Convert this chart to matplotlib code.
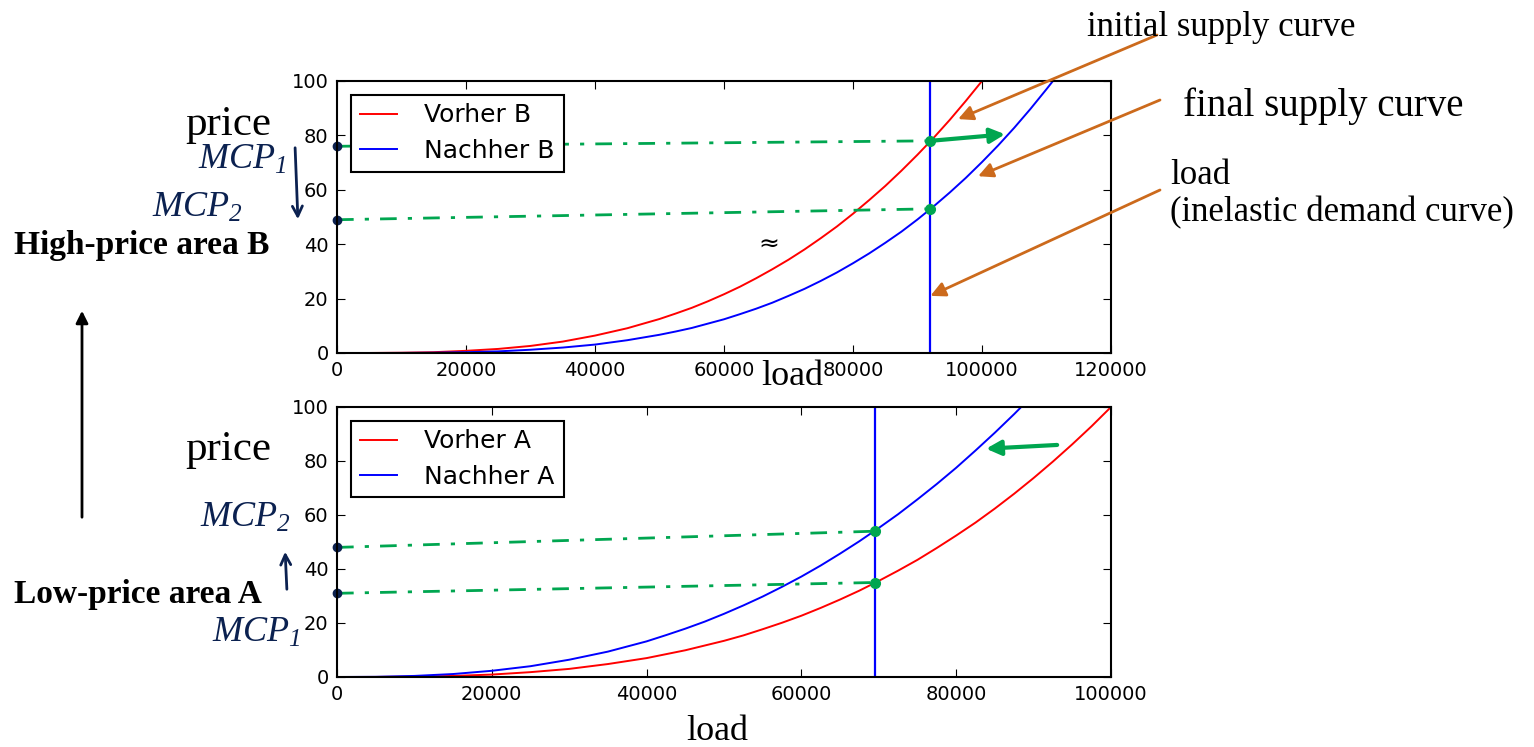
import matplotlib
matplotlib.use('Agg')
import matplotlib.pyplot as plt
from matplotlib.patches import FancyArrowPatch

# prices, one load list per curve
x_vorher_B = [0, 5000, 10000, 15000, 20000, 25000, 30000, 35000, 40000, 45000,
              50000, 52500, 55000, 57500, 60000, 62500, 65000, 67500, 70000, 72500,
              75000, 77500, 80000, 82500, 85000, 87500, 90000, 92500, 95000, 97500, 100000]
vorher_B = [0, 0.01, 0.1, 0.3, 0.8, 1.5, 2.6, 4.2, 6.4, 9.1,
            12.5, 14.5, 16.6, 19.0, 21.6, 24.4, 27.5, 30.8, 34.3, 38.1,
            42.2, 46.5, 51.2, 56.2, 61.4, 67.0, 72.9, 79.1, 85.7, 92.7, 100]
x_nachher_B = [0, 5000, 10000, 15000, 20000, 25000, 30000, 35000, 40000, 45000,
               50000, 52500, 55000, 57500, 60000, 62500, 65000, 67500, 70000, 72500,
               75000, 77500, 80000, 82500, 85000, 87500, 90000, 92500, 95000, 97500,
               100000, 102500, 105000, 107500, 110000, 111000]
nachher_B = [0, 0.0, 0.03, 0.11, 0.3, 0.6, 1.2, 2.0, 3.1, 4.7,
             6.7, 7.9, 9.2, 10.8, 12.4, 14.3, 16.3, 18.5, 21.0, 23.6,
             26.5, 29.6, 33.0, 36.6, 40.5, 44.6, 49.1, 53.9, 59.0, 64.4,
             70.2, 76.3, 82.8, 89.7, 97.0, 100]

x_vorher_A = [0, 5000, 10000, 15000, 20000, 25000, 30000, 35000, 40000, 45000,
              50000, 52500, 55000, 57500, 60000, 62500, 65000, 67500, 70000, 72500,
              75000, 77500, 80000, 82500, 85000, 87500, 90000, 92500, 95000, 97500, 100000]
vorher_A = [0, 0.02, 0.13, 0.4, 0.9, 1.8, 3.0, 4.8, 7.0, 9.9,
            13.4, 15.4, 17.7, 20.1, 22.7, 25.6, 28.7, 32.0, 35.6, 39.4,
            43.4, 47.8, 52.4, 57.2, 62.4, 67.9, 73.7, 79.8, 86.2, 92.9, 100]
x_nachher_A = [0, 5000, 10000, 15000, 20000, 25000, 30000, 35000, 40000, 42500,
               45000, 47500, 50000, 52500, 55000, 57500, 60000, 62500, 65000, 67500,
               70000, 72500, 75000, 77500, 80000, 82500, 85000, 87500, 88400]
nachher_A = [0, 0.07, 0.4, 1.1, 2.3, 4.0, 6.4, 9.4, 13.2, 15.5,
             17.9, 20.5, 23.4, 26.5, 29.8, 33.4, 37.2, 41.3, 45.7, 50.3,
             55.2, 60.3, 65.8, 71.5, 77.5, 83.9, 90.5, 97.4, 100]

demand_B = 92000
demand_A = 69500
# hand drawn MCP marks: (price at x=0, price at the demand line)
mcp_B = [(76, 78), (49, 53)]
mcp_A = [(48, 54), (31, 35)]

W, H = 1534, 747
def px(x, y):
    return (x / W, 1 - y / H)

orange = '#cc6a1c'
green = '#00a650'
navy = '#0b2150'
serif = ['Liberation Serif', 'DejaVu Serif']

plt.rcParams['font.family'] = ['DejaVu Sans']
plt.rcParams['font.size'] = 14
plt.rcParams['mathtext.fontset'] = 'custom'
plt.rcParams['mathtext.rm'] = 'Liberation Serif:italic'
plt.rcParams['mathtext.it'] = 'Liberation Serif:italic'
plt.rcParams['xtick.direction'] = 'in'
plt.rcParams['ytick.direction'] = 'in'
plt.rcParams['xtick.top'] = True
plt.rcParams['ytick.right'] = True
plt.rcParams['xtick.major.size'] = 6
plt.rcParams['ytick.major.size'] = 6
plt.rcParams['xtick.major.pad'] = 6
plt.rcParams['ytick.major.pad'] = 6

fig = plt.figure(figsize=(W / 100, H / 100), dpi=100)
fig.patch.set_facecolor('white')
ax1 = fig.add_axes([337 / W, 1 - 353 / H, 774 / W, 272 / H])
ax2 = fig.add_axes([337 / W, 1 - 677 / H, 774 / W, 270 / H])


def panel(ax, xv, vor, xn, nach, demand, tag, xmax, mcps):
    ax.plot(xv, vor, color='red', lw=1.4, label='Vorher ' + tag)
    ax.plot(xn, nach, color='blue', lw=1.4, label='Nachher ' + tag)
    ax.axvline(demand, color='blue', lw=1.6)
    ax.set_xlim(0, xmax)
    ax.set_ylim(0, 100)
    ax.set_yticks(range(0, 101, 20))
    ax.set_xticks(range(0, xmax + 1, 20000))
    for s in ax.spines.values():
        s.set_linewidth(1.5)
    leg = ax.legend(loc='upper left', fancybox=False, framealpha=1,
                    edgecolor='black', handlelength=1.5, borderpad=0.35,
                    labelspacing=0.45, handletextpad=1.1, fontsize=18,
                    borderaxespad=0.55)
    leg.get_frame().set_linewidth(1.5)
    # hand drawn MCP lines
    for y0, y1 in mcps:
        ax.plot([0, demand], [y0, y1], color=green, lw=2,
                ls=(0, (6, 4, 1.5, 4)), clip_on=False)
        ax.plot([demand], [y1], 'o', color=green, ms=7, clip_on=False)
        ax.plot([0], [y0], 'o', color=navy, ms=6, clip_on=False)


panel(ax1, x_vorher_B, vorher_B, x_nachher_B, nachher_B, demand_B, 'B', 120000, mcp_B)
panel(ax2, x_vorher_A, vorher_A, x_nachher_A, nachher_A, demand_A, 'A', 100000, mcp_A)

# green shift arrows
ax1.annotate('', xy=(104000, 80.5), xytext=(demand_B, 78),
             arrowprops=dict(arrowstyle='-|>', color=green, lw=3, mutation_scale=22))
ax2.annotate('', xy=(83500, 84.5), xytext=(93400, 86),
             arrowprops=dict(arrowstyle='-|>', color=green, lw=3, mutation_scale=22))
ax1.text(67000, 40, '≈', fontsize=18, ha='center', va='center')

# serif labels
fig.text(*px(228, 125), 'price', family=serif, fontsize=31, ha='center', va='center')
fig.text(*px(228, 450), 'price', family=serif, fontsize=31, ha='center', va='center')
fig.text(*px(792, 377), 'load', family=serif, fontsize=26, ha='center', va='center')
fig.text(*px(717, 732), 'load', family=serif, fontsize=26, ha='center', va='center')
fig.text(*px(14, 245), 'High-price area B', family=serif, fontsize=24,
         fontweight='bold', ha='left', va='center')
fig.text(*px(14, 595), 'Low-price area A', family=serif, fontsize=24,
         fontweight='bold', ha='left', va='center')

# handwriting
hw = dict(family=serif, style='italic', fontsize=26, color=navy, va='center')
fig.text(*px(198, 160), 'MCP$_1$', ha='left', **hw)
fig.text(*px(152, 208), 'MCP$_2$', ha='left', **hw)
fig.text(*px(200, 518), 'MCP$_2$', ha='left', **hw)
fig.text(*px(212, 633), 'MCP$_1$', ha='left', **hw)
fig.patches.append(FancyArrowPatch(px(295, 145), px(298, 222), transform=fig.transFigure,
                                   arrowstyle='->', color=navy, lw=2, mutation_scale=18))
fig.patches.append(FancyArrowPatch(px(287, 592), px(285, 549), transform=fig.transFigure,
                                   arrowstyle='->', color=navy, lw=2, mutation_scale=18))

# black up arrow on the left
fig.patches.append(FancyArrowPatch(px(82, 520), px(82, 308), transform=fig.transFigure,
                                   arrowstyle='-|>', color='black', lw=2, mutation_scale=18))

# orange callouts
callouts = [('initial supply curve', px(1087, 28), 25, px(1157, 35), (96300, 86)),
            ('final supply curve', px(1183, 106), 28, px(1160, 100), (99400, 65)),
            ('load\n(inelastic demand curve)', px(1170, 194), 25, px(1160, 190), (demand_B, 21))]
for txt, tpos, fs, tail, tip in callouts:
    fig.text(*tpos, txt, family=serif, fontsize=fs, ha='left', va='center',
             linespacing=1.15)
    ax1.annotate('', xy=tip, xycoords='data', xytext=tail, textcoords='figure fraction',
                 arrowprops=dict(arrowstyle='-|>', color=orange, lw=2,
                                 mutation_scale=22, shrinkA=0, shrinkB=0))

fig.savefig('out.png', dpi=100)
